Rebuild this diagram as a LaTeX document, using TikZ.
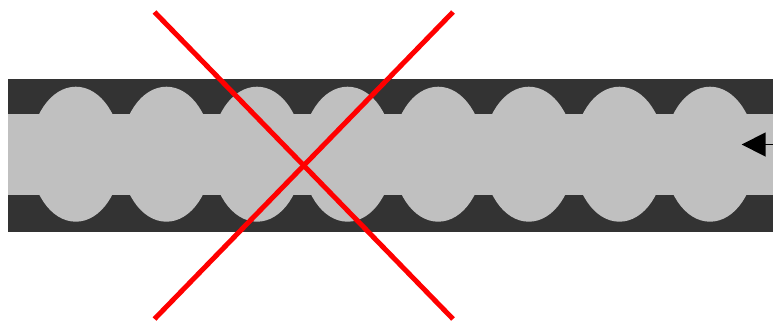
\documentclass[tikz,border=0pt]{standalone}
\usetikzlibrary{arrows.meta}
\definecolor{darkband}{HTML}{333333}
\definecolor{lightband}{HTML}{C0C0C0}
\begin{document}
\begin{tikzpicture}[x=1pt,y=-1pt,
  bump/.style={fill=lightband, draw=none},
  cross/.style={draw=red, line width=5pt},
  flowarrow/.style={draw=black, line width=1.8pt, -{Triangle[length=24pt,width=24pt]}}]
\useasboundingbox (0,0) rectangle (773,322);
\fill[white] (0,0) rectangle (773,322);
\fill[darkband] (8,79) rectangle (773,231.7);
\fill[lightband] (8,113.7) rectangle (773,195);
\foreach \i in {0,...,7}{
  \fill[bump] ({75.8+90.6*\i},154.2) ellipse [x radius=45.6, y radius=67.5];
}
\coordinate (arrowstart) at (773,144.5);
\coordinate (arrowend) at (741.7,144.5);
\draw[flowarrow] (arrowstart) -- (arrowend);
\coordinate (tl) at (154.5,12);
\coordinate (br) at (453,319);
\coordinate (tr) at (453,12);
\coordinate (bl) at (154.5,319);
\draw[cross] (tl) -- (br);
\draw[cross] (tr) -- (bl);
\end{tikzpicture}
\end{document}
